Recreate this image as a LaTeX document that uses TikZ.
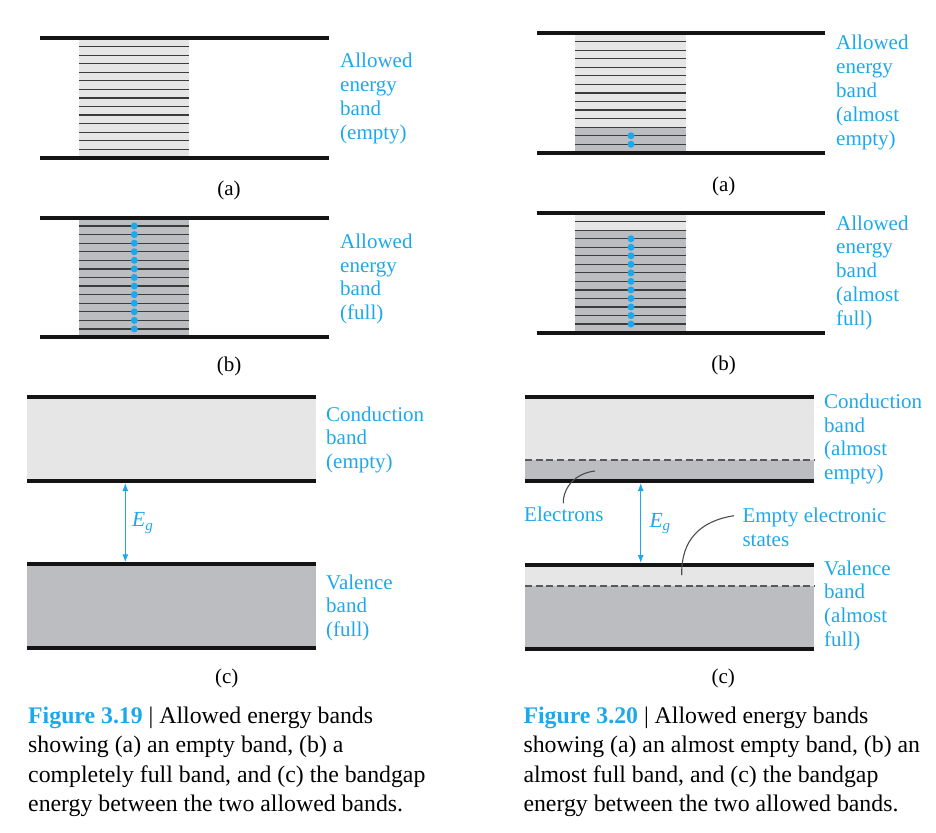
\documentclass[tikz,border=0pt]{standalone}
\usepackage{fontspec}
\setmainfont{Liberation Serif}
\usetikzlibrary{arrows.meta}
\definecolor{cblue}{RGB}{30,168,236}
\definecolor{lgray}{RGB}{230,230,231}
\definecolor{dgray}{RGB}{188,189,192}
\definecolor{lvl}{RGB}{60,60,60}
\tikzset{
 bandline/.style={line width=4pt, black!92},
 level/.style={line width=1.2pt, lvl},
 dot/.style={circle, fill=cblue, inner sep=0pt, minimum size=7pt},
 lbl/.style={text=cblue, font=\fontsize{21}{23.8}\selectfont, align=left, anchor=base west, inner sep=0pt},
 sublbl/.style={font=\fontsize{21}{24}\selectfont, anchor=base, inner sep=0pt},
 captext/.style={font=\fontsize{23.8}{29.5}\selectfont, align=left, anchor=base west, inner sep=0pt},
 gaparrow/.style={cblue, line width=1.2pt, {Latex[length=8pt,width=6pt]}-{Latex[length=8pt,width=6pt]}},
 leader/.style={line width=1.1pt, black!70},
 dashline/.style={line width=1.1pt, black!65, dash pattern=on 7pt off 3.7pt},
}
\newcommand{\Eglabel}{{\itshape E\raisebox{-0.4ex}{\fontsize{15}{15}\selectfont g}}}
\begin{document}
\begin{tikzpicture}[x=1pt,y=-1pt]
\useasboundingbox (0,0) rectangle (936,832);

% multi-line labels are placed at the baseline of their LAST line

% ---------- Fig 3.19 (a) ----------
\fill[lgray] (79,38.3) rectangle (189,158.3);
\foreach \k in {0,...,12} \draw[level] (79,{46.7+8.55*\k}) -- (189,{46.7+8.55*\k});
\draw[bandline] (40,38.3) -- (329,38.3);
\draw[bandline] (40,158.3) -- (329,158.3);
\node[lbl] (la) at (340,139.1) {Allowed\\energy\\band\\(empty)};
\node[sublbl] (sa) at (229,195) {(a)};

% ---------- Fig 3.19 (b) ----------
\fill[dgray] (79,217.7) rectangle (189,337.3);
\foreach \k in {0,...,12} {
  \draw[level] (79,{226+8.58*\k}) -- (189,{226+8.58*\k});
}
\foreach \k in {0,...,12} \node[dot] (lbd\k) at (134.3,{226+8.58*\k}) {};
\draw[bandline] (40,217.7) -- (329,217.7);
\draw[bandline] (40,337.3) -- (329,337.3);
\node[lbl] (lb) at (340,319.7) {Allowed\\energy\\band\\(full)};
\node[sublbl] (sb) at (229,371.7) {(b)};

% ---------- Fig 3.19 (c) ----------
\fill[lgray] (27.3,397.3) rectangle (316,481);
\fill[dgray] (27.3,564.3) rectangle (316,648.3);
\draw[bandline] (27.3,397.3) -- (316,397.3);
\draw[bandline] (27.3,481) -- (316,481);
\draw[bandline] (27.3,564.3) -- (316,564.3);
\draw[bandline] (27.3,648.3) -- (316,648.3);
\coordinate (lgt) at (125.3,483);
\coordinate (lgb) at (125.3,562.3);
\draw[gaparrow] (lgt) -- (lgb);
\node[anchor=base west, inner sep=0pt, text=cblue, font=\fontsize{21.5}{24}\selectfont] (leg) at (132,526.7) {\Eglabel};
\node[lbl] (lcond) at (326,468.6) {Conduction\\band\\(empty)};
\node[lbl] (lval) at (326,636.6) {Valence\\band\\(full)};
\node[sublbl] (sc) at (226.7,683) {(c)};

% ---------- Fig 3.20 (a) ----------
\fill[lgray] (575,33.3) rectangle (686,153);
\fill[dgray] (575,127.2) rectangle (686,153);
\foreach \k in {0,...,12} \draw[level] (575,{41.7+8.55*\k}) -- (686,{41.7+8.55*\k});
\foreach \k in {11,12} \node[dot] (rad\k) at (631,{41.7+8.55*\k}) {};
\draw[bandline] (537,33.3) -- (825,33.3);
\draw[bandline] (537,153) -- (825,153);
\node[lbl] (ra) at (836,145.2) {Allowed\\energy\\band\\(almost\\empty)};
\node[sublbl] (rsa) at (723.7,191.7) {(a)};

% ---------- Fig 3.20 (b) ----------
\fill[lgray] (575,212.7) rectangle (686,332.7);
\fill[dgray] (575,230.2) rectangle (686,332.7);
\foreach \k in {0,...,12} \draw[level] (575,{221.7+8.53*\k}) -- (686,{221.7+8.53*\k});
\foreach \k in {2,...,12} \node[dot] (rbd\k) at (631,{221.7+8.53*\k}) {};
\draw[bandline] (537,212.7) -- (825,212.7);
\draw[bandline] (537,332.7) -- (825,332.7);
\node[lbl] (rb) at (836,325.2) {Allowed\\energy\\band\\(almost\\full)};
\node[sublbl] (rsb) at (723.7,370) {(b)};

% ---------- Fig 3.20 (c) ----------
\fill[lgray] (525,397.3) rectangle (814,460);
\fill[dgray] (525,460) rectangle (814,481);
\fill[lgray] (525,565) rectangle (814,586);
\fill[dgray] (525,586) rectangle (814,649.3);
\draw[dashline] (525,460) -- (814,460);
\draw[dashline] (525,586) -- (814,586);
\draw[bandline] (525,397.3) -- (814,397.3);
\draw[bandline] (525,481) -- (814,481);
\draw[bandline] (525,565) -- (814,565);
\draw[bandline] (525,649.3) -- (814,649.3);
\coordinate (rgt) at (640.7,483);
\coordinate (rgb) at (640.7,563);
\draw[gaparrow] (rgt) -- (rgb);
\node[anchor=base west, inner sep=0pt, text=cblue, font=\fontsize{21.5}{24}\selectfont] (reg) at (649.3,527) {\Eglabel};
\node[lbl] (rcond) at (824,479.7) {Conduction\\band\\(almost\\empty)};
\node[lbl] (rval) at (824,646.4) {Valence\\band\\(almost\\full)};
\node[lbl] (elec) at (524,521.7) {Electrons};
\node[lbl] (emp) at (742.3,546.1) {Empty electronic\\states};
\coordinate (elecA) at (563.3,503.3);
\coordinate (elecB) at (595,471);
\draw[leader] (elecA) .. controls (563,487) and (576,473) .. (elecB);
\coordinate (empA) at (734,515.7);
\coordinate (empB) at (681.7,575);
\draw[leader] (empA) .. controls (700,521) and (681,540) .. (empB);
\node[sublbl] (rsc) at (723.3,683) {(c)};

% ---------- Captions ----------
\node[captext] (cap1) at (28,811.8) {\textcolor{cblue}{\textbf{Figure 3.19}} | Allowed energy bands\\showing (a) an empty band, (b) a\\completely full band, and (c) the bandgap\\energy between the two allowed bands.};
\node[captext] (cap2) at (523.3,811.8) {\textcolor{cblue}{\textbf{Figure 3.20}} | Allowed energy bands\\showing (a) an almost empty band, (b) an\\almost full band, and (c) the bandgap\\energy between the two allowed bands.};
\end{tikzpicture}
\end{document}
